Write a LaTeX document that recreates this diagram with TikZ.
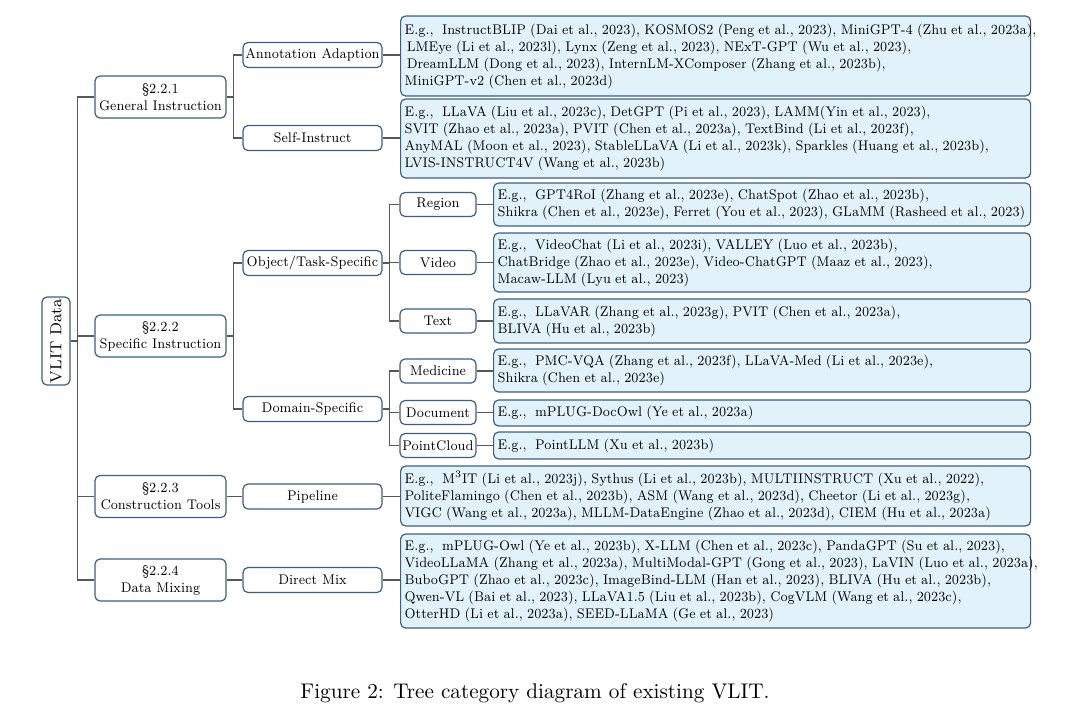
\documentclass[tikz,border=0pt]{standalone}
\usepackage{tikz}
\definecolor{bordercol}{RGB}{62,95,128}
\definecolor{leaffill}{RGB}{225,242,250}
\definecolor{linecol}{RGB}{88,88,88}
\newcommand{\hsq}[1]{\scalebox{0.9}[1]{#1}}
\newcommand{\leafline}[1]{\mbox{\hsq{#1}}}
\tikzset{
  conn/.style={draw=linecol, line width=0.8pt},
  catbox/.style={draw=bordercol, line width=0.6pt, rounded corners=2.5pt, fill=white,
    align=center, inner sep=1pt, font=\fontsize{7}{8.5}\selectfont},
  lone/.style={catbox, minimum width=65.5pt, minimum height=21pt},
  ltwo/.style={catbox, minimum width=69.5pt, minimum height=12.5pt},
  lthree/.style={catbox, minimum width=38pt, minimum height=12pt},
  leafbox/.style={draw=bordercol, line width=0.6pt, rounded corners=2.5pt, fill=leaffill,
    anchor=west, align=left, inner xsep=2pt, inner ysep=1pt, font=\fontsize{7}{8.5}\selectfont},
  wideleaf/.style={leafbox, minimum width=315pt, text width=311pt},
  narrowleaf/.style={leafbox, minimum width=268.5pt, text width=264.5pt},
}
\begin{document}
\begin{tikzpicture}[x=0.5pt,y=-0.5pt]
\useasboundingbox (0,0) rectangle (1080,723);

% root
\node[catbox, minimum width=14pt, minimum height=44pt, inner sep=0.5pt, font=\fontsize{8}{9.5}\selectfont] (root) at (56,341) {\rotatebox{90}{VLIT Data}};

% level 1
\node[lone] (gi) at (160.5,97) {\hsq{\S2.2.1}\\\hsq{General Instruction}};
\node[lone] (si) at (160.5,336) {\hsq{\S2.2.2}\\\hsq{Specific Instruction}};
\node[lone] (ct) at (160.5,496.5) {\hsq{\S2.2.3}\\\hsq{Construction Tools}};
\node[lone] (dm) at (160.5,580) {\hsq{\S2.2.4}\\\hsq{Data Mixing}};

% level 2
\node[ltwo] (aa) at (312.5,55) {\hsq{Annotation Adaption}};
\node[ltwo] (sf) at (312.5,138) {\hsq{Self-Instruct}};
\node[ltwo] (ot) at (312.5,263) {\hsq{Object/Task-Specific}};
\node[ltwo] (ds) at (312.5,409) {\hsq{Domain-Specific}};
\node[ltwo] (pl) at (312.5,496.5) {\hsq{Pipeline}};
\node[ltwo] (dx) at (312.5,580) {\hsq{Direct Mix}};

% level 3
\node[lthree] (rg) at (438,204.5) {\hsq{Region}};
\node[lthree] (vd) at (438,262.5) {\hsq{Video}};
\node[lthree] (tx) at (438,321) {\hsq{Text}};
\node[lthree] (md) at (438,371) {\hsq{Medicine}};
\node[lthree] (dc) at (438,412.5) {\hsq{Document}};
\node[lthree] (pc) at (438,445.5) {\hsq{PointCloud}};

% leaves
\node[wideleaf, minimum height=40pt] (laa) at (400,56) {%
\leafline{E.g.,~ InstructBLIP (Dai et al., 2023), KOSMOS2 (Peng et al., 2023), MiniGPT-4 (Zhu et al., 2023a),}\\
\leafline{\hspace*{1.2pt}LMEye (Li et al., 2023l), Lynx (Zeng et al., 2023), NExT-GPT (Wu et al., 2023),}\\
\leafline{\hspace*{1.2pt}DreamLLM (Dong et al., 2023), InternLM-XComposer (Zhang et al., 2023b),}\\
\leafline{MiniGPT-v2 (Chen et al., 2023d)}};
\node[wideleaf, minimum height=39.5pt] (lsf) at (400,138.5) {%
\leafline{E.g.,~ LLaVA (Liu et al., 2023c), DetGPT (Pi et al., 2023), LAMM(Yin et al., 2023),}\\
\leafline{SVIT (Zhao et al., 2023a), PVIT (Chen et al., 2023a), TextBind (Li et al., 2023f),}\\
\leafline{AnyMAL (Moon et al., 2023), StableLLaVA (Li et al., 2023k), Sparkles (Huang et al., 2023b),}\\
\leafline{LVIS-INSTRUCT4V (Wang et al., 2023b)}};
\node[narrowleaf, minimum height=21.5pt] (lrg) at (493,204.5) {%
\leafline{E.g.,~ GPT4RoI (Zhang et al., 2023e), ChatSpot (Zhao et al., 2023b),}\\
\leafline{Shikra (Chen et al., 2023e), Ferret (You et al., 2023), GLaMM (Rasheed et al., 2023)}};
\node[narrowleaf, minimum height=29.5pt] (lvd) at (493,262.5) {%
\leafline{E.g.,~ VideoChat (Li et al., 2023i), VALLEY (Luo et al., 2023b),}\\
\leafline{ChatBridge (Zhao et al., 2023e), Video-ChatGPT (Maaz et al., 2023),}\\
\leafline{Macaw-LLM (Lyu et al., 2023)}};
\node[narrowleaf, minimum height=22pt] (ltx) at (493,321) {%
\leafline{E.g.,~ LLaVAR (Zhang et al., 2023g), PVIT (Chen et al., 2023a),}\\
\leafline{BLIVA (Hu et al., 2023b)}};
\node[narrowleaf, minimum height=21.5pt] (lmd) at (493,370.5) {%
\leafline{E.g.,~ PMC-VQA (Zhang et al., 2023f), LLaVA-Med (Li et al., 2023e),}\\
\leafline{Shikra (Chen et al., 2023e)}};
\node[narrowleaf, minimum height=13pt] (ldc) at (493,413) {%
\leafline{E.g.,~ mPLUG-DocOwl (Ye et al., 2023a)}};
\node[narrowleaf, minimum height=13.5pt] (lpc) at (493,445.5) {%
\leafline{E.g.,~ PointLLM (Xu et al., 2023b)}};
\node[wideleaf, minimum height=30pt] (lpl) at (400,496) {%
\leafline{E.g.,~ M\textsuperscript{3}IT (Li et al., 2023j), Sythus (Li et al., 2023b), MULTIINSTRUCT (Xu et al., 2022),}\\
\leafline{PoliteFlamingo (Chen et al., 2023b), ASM (Wang et al., 2023d), Cheetor (Li et al., 2023g),}\\
\leafline{VIGC (Wang et al., 2023a), MLLM-DataEngine (Zhao et al., 2023d), CIEM (Hu et al., 2023a)}};
\node[wideleaf, minimum height=47pt] (ldx) at (400,581) {%
\leafline{E.g.,~ mPLUG-Owl (Ye et al., 2023b), X-LLM (Chen et al., 2023c), PandaGPT (Su et al., 2023),}\\
\leafline{VideoLLaMA (Zhang et al., 2023a), MultiModal-GPT (Gong et al., 2023), LaVIN (Luo et al., 2023a),}\\
\leafline{BuboGPT (Zhao et al., 2023c), ImageBind-LLM (Han et al., 2023), BLIVA (Hu et al., 2023b),}\\
\leafline{Qwen-VL (Bai et al., 2023), LLaVA1.5 (Liu et al., 2023b), CogVLM (Wang et al., 2023c),}\\
\leafline{OtterHD (Li et al., 2023a), SEED-LLaMA (Ge et al., 2023)}};

% caption
\node[font=\fontsize{10.6}{12.5}\selectfont] (cap) at (535,693) {Figure 2: Tree category diagram of existing VLIT.};

% connectors: root to level 1
\foreach \c in {gi,si,ct,dm} \draw[conn] (root.east) -- ++(7,0) |- (\c.west);
% level 1 to level 2
\foreach \p/\c in {gi/aa,gi/sf,si/ot,si/ds,ct/pl,dm/dx} \draw[conn] (\p.east) -- ++(7,0) |- (\c.west);
% level 2 to level 3
\foreach \p/\c in {ot/rg,ot/vd,ot/tx,ds/md,ds/dc,ds/pc} \draw[conn] (\p.east) -- ++(7,0) |- (\c.west);
% to leaves
\foreach \p/\c in {aa/laa,sf/lsf,rg/lrg,vd/lvd,tx/ltx,md/lmd,dc/ldc,pc/lpc,pl/lpl,dx/ldx} \draw[conn] (\p.east) -- (\p.east -| \c.west);
\end{tikzpicture}
\end{document}
